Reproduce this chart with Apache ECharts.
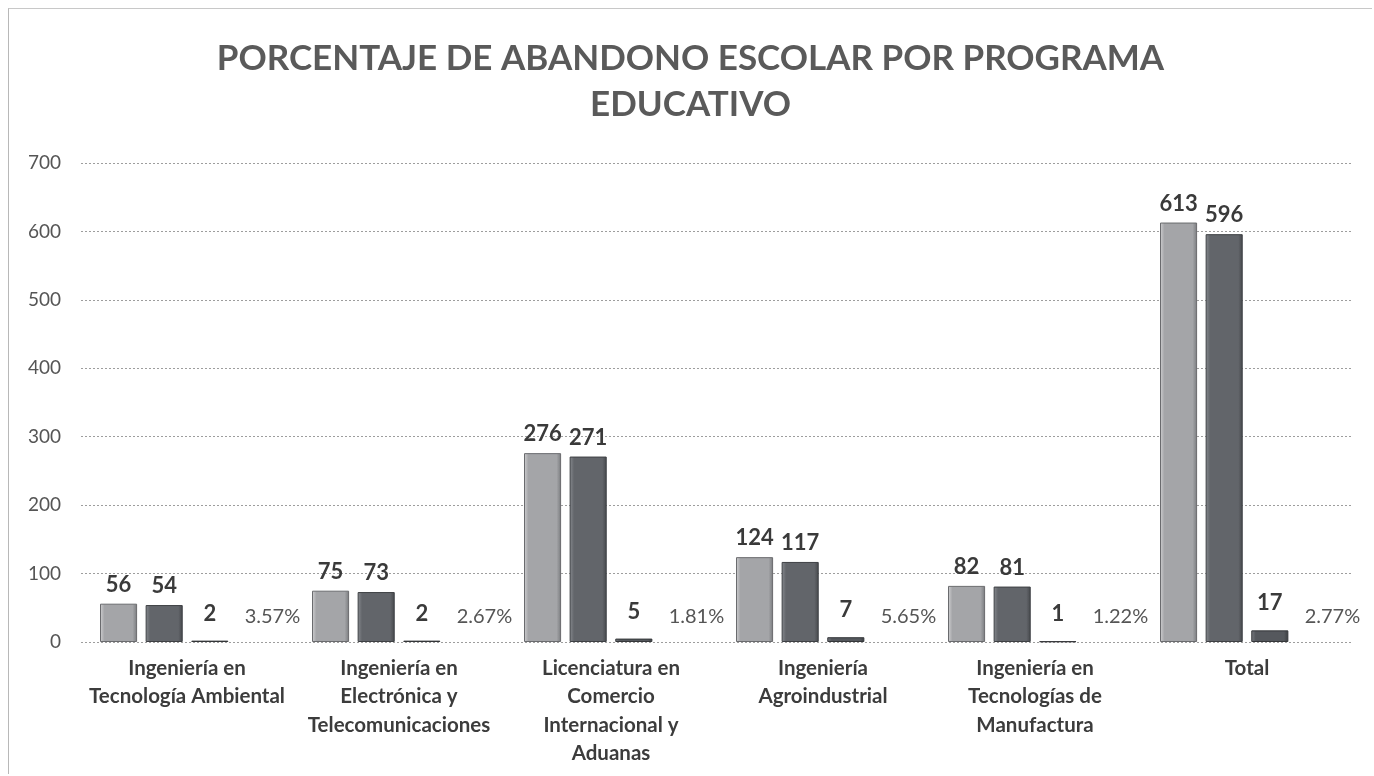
<!DOCTYPE html>
<html>
<head>
<meta charset="utf-8">
<script src="https://cdn.jsdelivr.net/npm/echarts@6/dist/echarts.min.js"></script>
<style>
  html, body { margin: 0; padding: 0; background: #ffffff; }
  #chart { position: absolute; left: 8px; top: 8px; width: 1364px; height: 766px;
           border-left: 1px solid #b8b8b8; border-top: 1px solid #c8c8c8; box-sizing: border-box; }
</style>
</head>
<body>
<div id="chart"></div>
<script>
// Programas educativos
const categories = [
  'Ingeniería en\nTecnología Ambiental',
  'Ingeniería en\nElectrónica y\nTelecomunicaciones',
  'Licenciatura en\nComercio\nInternacional y\nAduanas',
  'Ingeniería\nAgroindustrial',
  'Ingeniería en\nTecnologías de\nManufactura',
  'Total'
];
// Matrícula inicial, matrícula final, bajas y porcentaje de abandono
const inicial    = [56, 75, 276, 124, 82, 613];
const final_     = [54, 73, 271, 117, 81, 596];
const bajas      = [2, 2, 5, 7, 1, 17];
const porcentaje = [0.0357, 0.0267, 0.0181, 0.0565, 0.0122, 0.0277];

const yTicks = { min: 0, max: 700, interval: 100 };

const FONT = 'Lato, "Open Sans", sans-serif';
const BAR_W = '17.5%';

// horizontal gradient giving each bar a bevelled look
function bevel(c1, c2, c3) {
  return new echarts.graphic.LinearGradient(0, 0, 1, 0, [
    { offset: 0, color: c1 },
    { offset: 0.12, color: c2 },
    { offset: 0.88, color: c2 },
    { offset: 1, color: c3 }
  ]);
}

const chart = echarts.init(document.getElementById('chart'), null, { renderer: 'canvas' });

const valueLabel = {
  show: true, position: 'top', distance: 8,
  fontFamily: FONT, fontWeight: 'bold', fontSize: 22, color: '#3a3a3a'
};

chart.setOption({
  backgroundColor: '#ffffff',
  animation: false,
  title: {
    text: 'PORCENTAJE DE ABANDONO ESCOLAR POR PROGRAMA\nEDUCATIVO',
    left: 'center', top: 22,
    textStyle: { fontFamily: FONT, fontWeight: 'bold', fontSize: 35, color: '#5a5a5a', lineHeight: 46 }
  },
  grid: { left: 72, right: 19, top: 154, bottom: 132 },
  xAxis: {
    type: 'category',
    data: categories,
    axisLine: { show: false },
    axisTick: { show: false },
    axisLabel: {
      interval: 0, margin: 12,
      fontFamily: FONT, fontWeight: 'bold', fontSize: 20.5, color: '#3c3c3c', lineHeight: 28.5
    }
  },
  yAxis: {
    type: 'value',
    min: yTicks.min, max: yTicks.max, interval: yTicks.interval,
    axisLine: { show: false },
    axisTick: { show: false },
    axisLabel: { margin: 20, fontFamily: FONT, fontSize: 19, color: '#555555' },
    splitLine: { lineStyle: { color: '#9d9d9d', type: [2, 2], width: 1 } }
  },
  series: [
    {
      name: 'Inicial', type: 'bar', data: inicial,
      barWidth: BAR_W, barGap: '23%',
      itemStyle: { color: bevel('#d0d0d2', '#a4a5a8', '#787a7d'), borderColor: '#6a6b6e', borderWidth: 1 },
      label: valueLabel
    },
    {
      name: 'Final', type: 'bar', data: final_,
      barWidth: BAR_W, barGap: '23%',
      itemStyle: { color: bevel('#888b90', '#62656a', '#45474b'), borderColor: '#3e4044', borderWidth: 1 },
      label: valueLabel
    },
    {
      name: 'Bajas', type: 'bar', data: bajas,
      barWidth: BAR_W, barGap: '23%',
      itemStyle: { color: bevel('#7a7d82', '#55585d', '#3a3c40'), borderColor: '#35373a', borderWidth: 1 },
      label: Object.assign({}, valueLabel, { distance: 16 })
    },
    {
      name: 'Porcentaje', type: 'bar', data: porcentaje,
      barWidth: BAR_W, barGap: '23%',
      itemStyle: { color: 'rgba(0,0,0,0)' },
      label: {
        show: true, position: 'top', distance: 15, offset: [17, 0],
        fontFamily: FONT, fontSize: 20, color: '#555555',
        formatter: p => (p.value * 100).toFixed(2) + '%'
      }
    }
  ]
});
</script>
</body>
</html>
